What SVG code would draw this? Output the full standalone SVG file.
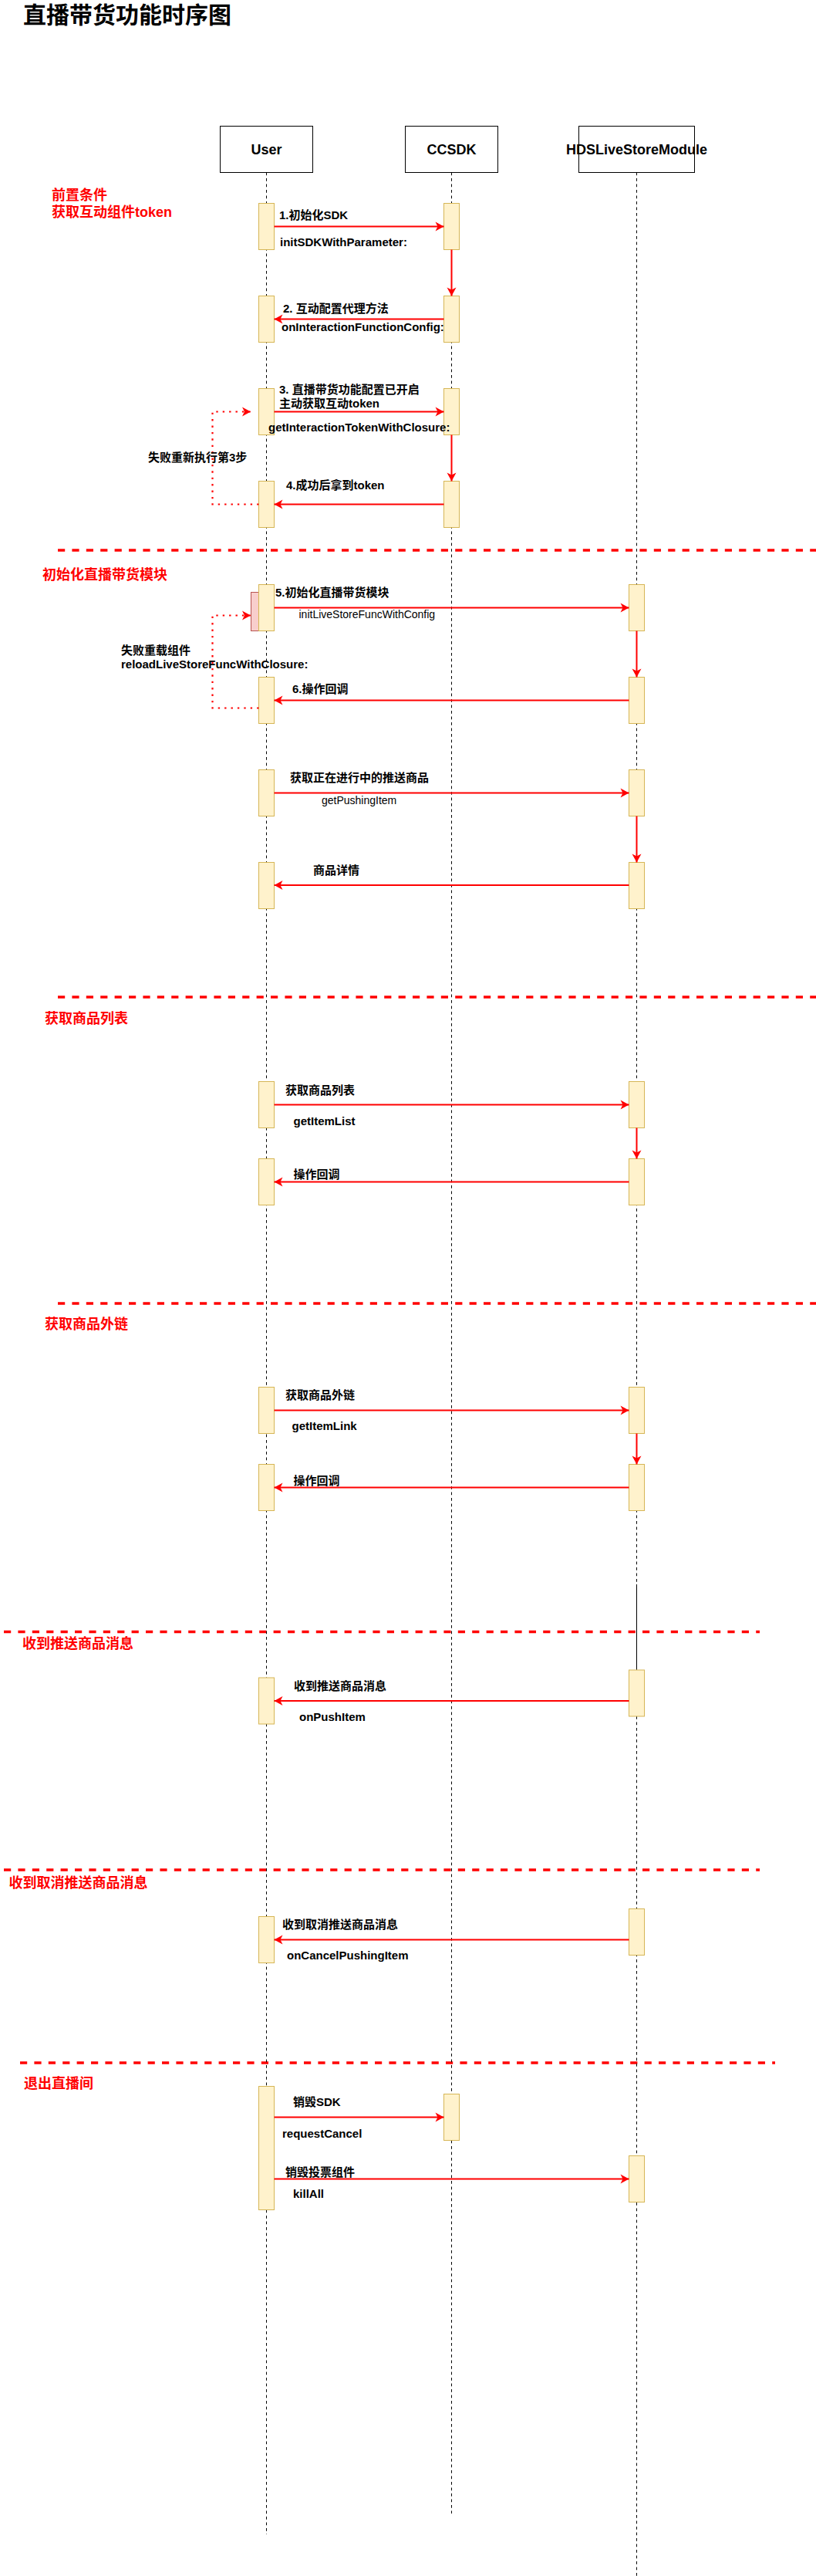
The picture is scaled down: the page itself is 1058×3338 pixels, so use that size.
<svg xmlns="http://www.w3.org/2000/svg" width="1058" height="3338" viewBox="0 0 1058 3338">
<style>
text{font-family:"Liberation Sans","Noto Sans CJK SC",sans-serif;font-weight:bold;fill:#000}
.title{font-size:30px}
.sec{font-size:18px;fill:#ff0000}
.lbl{font-size:15px}
.reg{font-size:14px;font-weight:normal}
.hdr{font-size:18px;text-anchor:middle}
.box{fill:#fff;stroke:#000;stroke-width:1}
.life{stroke:#000;stroke-width:1;stroke-dasharray:3.75 3.75;fill:none}
.act{fill:#fff2cc;stroke:#d6b656;stroke-width:1}
.pink{fill:#f8cecc;stroke:#b85450;stroke-width:1}
.msg{stroke:#ff0000;stroke-width:2;fill:none;marker-end:url(#ah)}
.loop{stroke:#ff0000;stroke-width:2.2;fill:none;stroke-dasharray:2.4 6;marker-end:url(#ah)}
.sep{stroke:#ff0000;stroke-width:3.5;stroke-dasharray:9.2 9.2;fill:none}
</style>
<defs>
<marker id="ah" markerUnits="userSpaceOnUse" markerWidth="12" markerHeight="12" refX="11" refY="6" orient="auto" overflow="visible">
<path d="M0,0 L11,6 L0,12 L3,6 Z" fill="#ff0000" stroke="none"/>
</marker>
</defs>
<rect width="1058" height="3338" fill="#fff"/>
<text class="title" x="30" y="30">直播带货功能时序图</text>

<g id="separators">
<line class="sep" x1="75" y1="713" x2="1058" y2="713"/>
<line class="sep" x1="75" y1="1292" x2="1058" y2="1292"/>
<line class="sep" x1="75" y1="1689" x2="1058" y2="1689"/>
<line class="sep" x1="5" y1="2114.5" x2="985" y2="2114.5"/>
<line class="sep" x1="5" y1="2423" x2="985" y2="2423"/>
<line class="sep" x1="26" y1="2673" x2="1005" y2="2673"/>
</g>

<g id="section-labels">
<text class="sec" x="67" y="259">前置条件</text>
<text class="sec" x="67" y="281">获取互动组件token</text>
<text class="sec" x="55" y="751">初始化直播带货模块</text>
<text class="sec" x="58" y="1326">获取商品列表</text>
<text class="sec" x="58" y="1722">获取商品外链</text>
<text class="sec" x="29" y="2136">收到推送商品消息</text>
<text class="sec" x="11.5" y="2446">收到取消推送商品消息</text>
<text class="sec" x="31" y="2706">退出直播间</text>
</g>

<g id="lifelines">
<line class="life" x1="345.5" y1="223.5" x2="345.5" y2="3284"/>
<line class="life" x1="585.5" y1="223.5" x2="585.5" y2="3257"/>
<line class="life" x1="825.5" y1="223.5" x2="825.5" y2="2053"/>
<line x1="825.5" y1="2053" x2="825.5" y2="2164" stroke="#000" stroke-width="1"/>
<line class="life" x1="825.5" y1="2224" x2="825.5" y2="3338"/>
</g>

<g id="node-user">
<rect class="box" x="285.5" y="163.5" width="120" height="60"/>
<text class="hdr" x="345.5" y="200">User</text>
</g>
<g id="node-ccsdk">
<rect class="box" x="525.5" y="163.5" width="120" height="60"/>
<text class="hdr" x="585.5" y="200">CCSDK</text>
</g>
<g id="node-hds">
<rect class="box" x="750.5" y="163.5" width="150" height="60"/>
<text class="hdr" x="825.5" y="200">HDSLiveStoreModule</text>
</g>

<g id="activations">
<rect class="act" x="335.5" y="263.5" width="20" height="60"/>
<rect class="act" x="575.5" y="263.5" width="20" height="60"/>
<rect class="act" x="335.5" y="383.5" width="20" height="60"/>
<rect class="act" x="575.5" y="383.5" width="20" height="60"/>
<rect class="act" x="335.5" y="503.5" width="20" height="60"/>
<rect class="act" x="575.5" y="503.5" width="20" height="60"/>
<rect class="act" x="335.5" y="623.5" width="20" height="60"/>
<rect class="act" x="575.5" y="623.5" width="20" height="60"/>

<rect class="pink" x="325.5" y="767.5" width="10" height="50"/>
<rect class="act" x="335.5" y="757.5" width="20" height="60"/>
<rect class="act" x="815.5" y="757.5" width="20" height="60"/>
<rect class="act" x="335.5" y="877.5" width="20" height="60"/>
<rect class="act" x="815.5" y="877.5" width="20" height="60"/>
<rect class="act" x="335.5" y="997.5" width="20" height="60"/>
<rect class="act" x="815.5" y="997.5" width="20" height="60"/>
<rect class="act" x="335.5" y="1117.5" width="20" height="60"/>
<rect class="act" x="815.5" y="1117.5" width="20" height="60"/>

<rect class="act" x="335.5" y="1401.5" width="20" height="60"/>
<rect class="act" x="815.5" y="1401.5" width="20" height="60"/>
<rect class="act" x="335.5" y="1501.5" width="20" height="60"/>
<rect class="act" x="815.5" y="1501.5" width="20" height="60"/>

<rect class="act" x="335.5" y="1797.5" width="20" height="60"/>
<rect class="act" x="815.5" y="1797.5" width="20" height="60"/>
<rect class="act" x="335.5" y="1897.5" width="20" height="60"/>
<rect class="act" x="815.5" y="1897.5" width="20" height="60"/>

<rect class="act" x="815.5" y="2164" width="20" height="60"/>
<rect class="act" x="335.5" y="2174" width="20" height="60"/>

<rect class="act" x="815.5" y="2473.5" width="20" height="60"/>
<rect class="act" x="335.5" y="2483.5" width="20" height="60"/>

<rect class="act" x="335.5" y="2703.5" width="20" height="160"/>
<rect class="act" x="575.5" y="2713.5" width="20" height="60"/>
<rect class="act" x="815.5" y="2793.5" width="20" height="60"/>
</g>

<g id="connectors">
<line class="msg" x1="355.5" y1="293.5" x2="575.5" y2="293.5"/>
<line class="msg" x1="585.5" y1="323.5" x2="585.5" y2="383.5"/>
<line class="msg" x1="575.5" y1="413.5" x2="355.5" y2="413.5"/>
<line class="msg" x1="355.5" y1="533.5" x2="575.5" y2="533.5"/>
<line class="msg" x1="585.5" y1="563.5" x2="585.5" y2="623.5"/>
<line class="msg" x1="575.5" y1="653.5" x2="355.5" y2="653.5"/>
<path class="loop" d="M335.5,653.5 H275.5 V533.5 H325"/>

<line class="msg" x1="355.5" y1="787.5" x2="815.5" y2="787.5"/>
<line class="msg" x1="825.5" y1="817.5" x2="825.5" y2="877.5"/>
<line class="msg" x1="815.5" y1="907.5" x2="355.5" y2="907.5"/>
<path class="loop" d="M335.5,917.5 H275.5 V797.5 H325"/>
<line class="msg" x1="355.5" y1="1027.5" x2="815.5" y2="1027.5"/>
<line class="msg" x1="825.5" y1="1057.5" x2="825.5" y2="1117.5"/>
<line class="msg" x1="815.5" y1="1147" x2="355.5" y2="1147"/>

<line class="msg" x1="355.5" y1="1431.5" x2="815.5" y2="1431.5"/>
<line class="msg" x1="825.5" y1="1461.5" x2="825.5" y2="1501.5"/>
<line class="msg" x1="815.5" y1="1531.5" x2="355.5" y2="1531.5"/>

<line class="msg" x1="355.5" y1="1827.5" x2="815.5" y2="1827.5"/>
<line class="msg" x1="825.5" y1="1857.5" x2="825.5" y2="1897.5"/>
<line class="msg" x1="815.5" y1="1927.5" x2="355.5" y2="1927.5"/>

<line class="msg" x1="815.5" y1="2204" x2="355.5" y2="2204"/>
<line class="msg" x1="815.5" y1="2513.5" x2="355.5" y2="2513.5"/>

<line class="msg" x1="355.5" y1="2743.5" x2="575.5" y2="2743.5"/>
<line class="msg" x1="355.5" y1="2823.5" x2="815.5" y2="2823.5"/>
</g>

<g id="message-labels">
<text class="lbl" x="362" y="284">1.初始化SDK</text>
<text class="lbl" x="363" y="319">initSDKWithParameter:</text>
<text class="lbl" x="367" y="405">2. 互动配置代理方法</text>
<text class="lbl" x="365" y="429">onInteractionFunctionConfig:</text>
<text class="lbl" x="362" y="510">3. 直播带货功能配置已开启</text>
<text class="lbl" x="362" y="528">主动获取互动token</text>
<text class="lbl" x="348" y="559">getInteractionTokenWithClosure:</text>
<text class="lbl" x="371" y="634">4.成功后拿到token</text>
<text class="lbl" x="192" y="598">失败重新执行第3步</text>

<text class="lbl" x="357" y="773">5.初始化直播带货模块</text>
<text class="reg" x="387.5" y="801">initLiveStoreFuncWithConfig</text>
<text class="lbl" x="157" y="848">失败重载组件</text>
<text class="lbl" x="157" y="866">reloadLiveStoreFuncWithClosure:</text>
<text class="lbl" x="379" y="898">6.操作回调</text>
<text class="lbl" x="376" y="1013">获取正在进行中的推送商品</text>
<text class="reg" x="417" y="1042">getPushingItem</text>
<text class="lbl" x="406" y="1133">商品详情</text>

<text class="lbl" x="370" y="1418">获取商品列表</text>
<text class="lbl" x="380.5" y="1458">getItemList</text>
<text class="lbl" x="380.5" y="1527">操作回调</text>

<text class="lbl" x="370" y="1813">获取商品外链</text>
<text class="lbl" x="378.5" y="1853">getItemLink</text>
<text class="lbl" x="380.5" y="1924">操作回调</text>

<text class="lbl" x="381" y="2190">收到推送商品消息</text>
<text class="lbl" x="388" y="2230">onPushItem</text>

<text class="lbl" x="366" y="2499">收到取消推送商品消息</text>
<text class="lbl" x="372" y="2539">onCancelPushingItem</text>

<text class="lbl" x="380" y="2729">销毁SDK</text>
<text class="lbl" x="366" y="2770">requestCancel</text>
<text class="lbl" x="370" y="2820">销毁投票组件</text>
<text class="lbl" x="380" y="2848">killAll</text>
</g>
</svg>
